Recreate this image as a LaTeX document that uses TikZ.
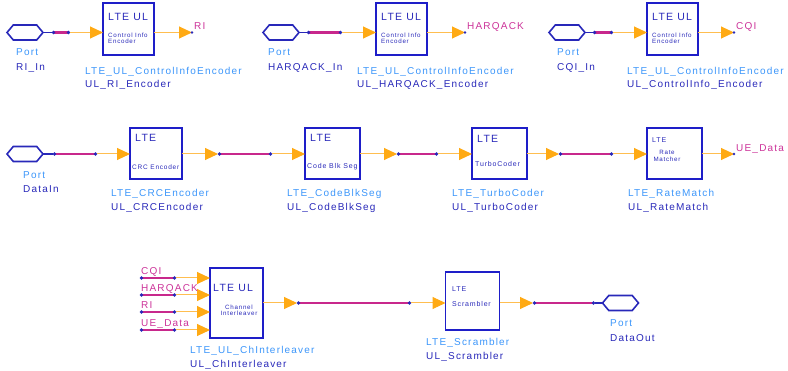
\documentclass[tikz,border=0pt]{standalone}
\usepackage{fontspec}
\setmainfont{Liberation Sans}
\newfontfamily\lsp[LetterSpace=12]{Liberation Sans}
\usetikzlibrary{arrows.meta,shapes.symbols}
\definecolor{lblue}{RGB}{60,150,250}
\definecolor{dblue}{RGB}{40,40,185}
\definecolor{mag}{RGB}{204,51,153}
\definecolor{wirec}{RGB}{200,40,140}
\definecolor{orng}{RGB}{255,170,20}
\definecolor{lorng}{RGB}{255,190,80}
\definecolor{bblue}{RGB}{30,30,200}
\tikzset{
  blk/.style={draw=bblue, line width=1.8, inner sep=0, outer sep=0},
  lead/.style={draw=lorng, line width=1, -{Triangle[length=13pt,width=12pt,color=orng]}},
  wire/.style={draw=wirec, line width=2.3, {Circle[length=3pt,color=dblue]}-{Circle[length=3pt,color=dblue]}},
  plead/.style={draw=dblue, line width=1.2},
  port/.style={signal, signal to=east and west, draw=dblue, line width=1.6, minimum width=36, minimum height=15, inner sep=0, outer sep=0, signal pointer angle=100},
  txt/.style={anchor=west, inner sep=0, text height=7.2, text depth=0, font=\lsp\fontsize{10}{10}\selectfont},
  tl/.style={txt, text=lblue},
  tn/.style={txt, text=dblue},
  tm/.style={txt, text=mag},
  bt/.style={txt, text=dblue, font=\lsp\fontsize{10.5}{10.5}\selectfont},
  bs/.style={anchor=west, inner sep=0, text=dblue, font=\lsp\fontsize{6.2}{6.2}\selectfont, align=left},
  bm/.style={bs, font=\lsp\fontsize{7}{7}\selectfont},
}
\begin{document}
\begin{tikzpicture}[x=1pt,y=-1pt]
\useasboundingbox (0,0) rectangle (788,371);
% ---------------- Row 1 ----------------
% Block A
\node[port] (pRI) at (25,32.5) {};
\coordinate (pRIo) at (52,32.5);
\coordinate (cA) at (70,32.5);
\node[blk, minimum width=51, minimum height=52] (bA) at (128.5,29) {};
\coordinate (oA) at (192,32.5);
\draw[plead] (pRI.east) -- (pRIo);
\draw[wire] (pRIo) -- (cA);
\draw[lead] (cA) -- (cA -| bA.west);
\draw[lead] (bA.east |- oA) -- (oA);
\fill[dblue] (oA) circle (1.3);
\node[bt] (bAt) at (108,17) {LTE UL};
\node[bs] (bAs) at (108,38) {Control Info\\Encoder};
\node[tm] (lRI) at (194,26) {RI};
\node[tl] (ptA) at (16,52) {Port};
\node[tn] (nmA) at (16,67) {RI\_In};
\node[tl] (ctA) at (85,71) {LTE\_UL\_ControlInfoEncoder};
\node[tn] (inA) at (85,84) {UL\_RI\_Encoder};
% Block B
\node[port] (pHQ) at (281,32.5) {};
\coordinate (pHQo) at (307,32.5);
\coordinate (cB) at (342,32.5);
\node[blk, minimum width=51, minimum height=52] (bB) at (401.5,29) {};
\coordinate (oB) at (465,32.5);
\draw[plead] (pHQ.east) -- (pHQo);
\draw[wire] (pHQo) -- (cB);
\draw[lead] (cB) -- (cB -| bB.west);
\draw[lead] (bB.east |- oB) -- (oB);
\fill[dblue] (oB) circle (1.3);
\node[bt] (bBt) at (381,17) {LTE UL};
\node[bs] (bBs) at (381,38) {Control Info\\Encoder};
\node[tm] (lHQ) at (467,26) {HARQACK};
\node[tl] (ptB) at (268,52) {Port};
\node[tn] (nmB) at (268,67) {HARQACK\_In};
\node[tl] (ctB) at (357,71) {LTE\_UL\_ControlInfoEncoder};
\node[tn] (inB) at (357,84) {UL\_HARQACK\_Encoder};
% Block C
\node[port] (pCQ) at (567,32.5) {};
\coordinate (pCQo) at (593,32.5);
\coordinate (cC) at (613,32.5);
\node[blk, minimum width=51, minimum height=52] (bC) at (672.5,29) {};
\coordinate (oC) at (734,32.5);
\draw[plead] (pCQ.east) -- (pCQo);
\draw[wire] (pCQo) -- (cC);
\draw[lead] (cC) -- (cC -| bC.west);
\draw[lead] (bC.east |- oC) -- (oC);
\fill[dblue] (oC) circle (1.3);
\node[bt] (bCt) at (652,17) {LTE UL};
\node[bs] (bCs) at (652,38) {Control Info\\Encoder};
\node[tm] (lCQ) at (736,26) {CQI};
\node[tl] (ptC) at (557,52) {Port};
\node[tn] (nmC) at (557,67) {CQI\_In};
\node[tl] (ctC) at (627,71) {LTE\_UL\_ControlInfoEncoder};
\node[tn] (inC) at (627,84) {UL\_ControlInfo\_Encoder};
% ---------------- Row 2 ----------------
\node[port] (pD) at (25,154) {};
\coordinate (pDo) at (53,154);
\coordinate (c1) at (97,154);
\node[blk, minimum width=52, minimum height=51] (b1) at (156,153.5) {};
\coordinate (o1) at (218,154);
\coordinate (c2) at (272,154);
\node[blk, minimum width=55, minimum height=51] (b2) at (332.5,153.5) {};
\coordinate (o2) at (397,154);
\coordinate (c3) at (438,154);
\node[blk, minimum width=55, minimum height=51] (b3) at (499.5,153.5) {};
\coordinate (o3) at (559,154);
\coordinate (c4) at (613,154);
\node[blk, minimum width=55, minimum height=51] (b4) at (674.5,153.5) {};
\coordinate (o4) at (734,154);
\draw[plead] (pD.east) -- (pDo);
\draw[wire] (pDo) -- (c1);
\draw[lead] (c1) -- (c1 -| b1.west);
\draw[lead] (b1.east |- o1) -- (o1);
\draw[wire] (o1) -- (c2);
\draw[lead] (c2) -- (c2 -| b2.west);
\draw[lead] (b2.east |- o2) -- (o2);
\draw[wire] (o2) -- (c3);
\draw[lead] (c3) -- (c3 -| b3.west);
\draw[lead] (b3.east |- o3) -- (o3);
\draw[wire] (o3) -- (c4);
\draw[lead] (c4) -- (c4 -| b4.west);
\draw[lead] (b4.east |- o4) -- (o4);
\fill[dblue] (o4) circle (1.3);
\node[bt] (b1t) at (135,138) {LTE};
\node[bs, font=\lsp\fontsize{6.5}{6.5}\selectfont] (b1s) at (132,167) {CRC Encoder};
\node[bt] (b2t) at (310,138) {LTE};
\node[bm] (b2s) at (307,167) {Code Blk Seg};
\node[bt] (b3t) at (477,139) {LTE};
\node[bm] (b3s) at (475,164) {TurboCoder};
\node[bm] (b4t) at (652,140) {LTE};
\node[bs, align=center, anchor=center] (b4s) at (667,156) {Rate\\Matcher};
\node[tm] (lUE) at (736,148) {UE\_Data};
\node[tl] (ptD) at (23,175) {Port};
\node[tn] (nmD) at (23,189) {DataIn};
\node[tl] (ct1) at (111,193) {LTE\_CRCEncoder};
\node[tn] (in1) at (111,207) {UL\_CRCEncoder};
\node[tl] (ct2) at (287,193) {LTE\_CodeBlkSeg};
\node[tn] (in2) at (287,207) {UL\_CodeBlkSeg};
\node[tl] (ct3) at (452,193) {LTE\_TurboCoder};
\node[tn] (in3) at (452,207) {UL\_TurboCoder};
\node[tl] (ct4) at (628,193) {LTE\_RateMatch};
\node[tn] (in4) at (628,207) {UL\_RateMatch};
% ---------------- Row 3 ----------------
\node[blk, minimum width=53, minimum height=70] (bI) at (236.5,303) {};
\foreach \nm/\yy/\lb in {q/278/CQI, h/295/HARQACK, r/312/RI, u/330/UE\_Data}{
  \coordinate (sL\nm) at (140,\yy);
  \coordinate (sR\nm) at (176,\yy);
  \draw[wire] (sL\nm) -- (sR\nm);
  \draw[lead] (sR\nm) -- (sR\nm -| bI.west);
  \node[tm] (sT\nm) at (141,\yy-7) {\lb};
}
\coordinate (oI) at (297,303);
\coordinate (cS) at (411,303);
\node[blk, minimum width=54, minimum height=58] (bS) at (472.5,301) {};
\coordinate (oS) at (533,303);
\coordinate (pOi) at (595,303);
\node[port] (pOut) at (620.5,303) {};
\draw[lead] (bI.east |- oI) -- (oI);
\draw[wire] (oI) -- (cS);
\draw[lead] (cS) -- (cS -| bS.west);
\draw[lead] (bS.east |- oS) -- (oS);
\draw[wire] (oS) -- (pOi);
\draw[plead] (pOi) -- (pOut.west);
\node[bt] (bIt) at (213,288) {LTE UL};
\node[bs, align=center, anchor=center] (bIs) at (239,310.5) {Channel\\Interleaver};
\node[bm] (bSt) at (452,289) {LTE};
\node[bm] (bSs) at (452,304) {Scrambler};
\node[tl] (ptO) at (610,323) {Port};
\node[tn] (nmO) at (610,338) {DataOut};
\node[tl] (ctS) at (426,342) {LTE\_Scrambler};
\node[tn] (inS) at (426,356) {UL\_Scrambler};
\node[tl] (ctI) at (190,350) {LTE\_UL\_ChInterleaver};
\node[tn] (inI) at (190,364) {UL\_ChInterleaver};
\end{tikzpicture}
\end{document}
